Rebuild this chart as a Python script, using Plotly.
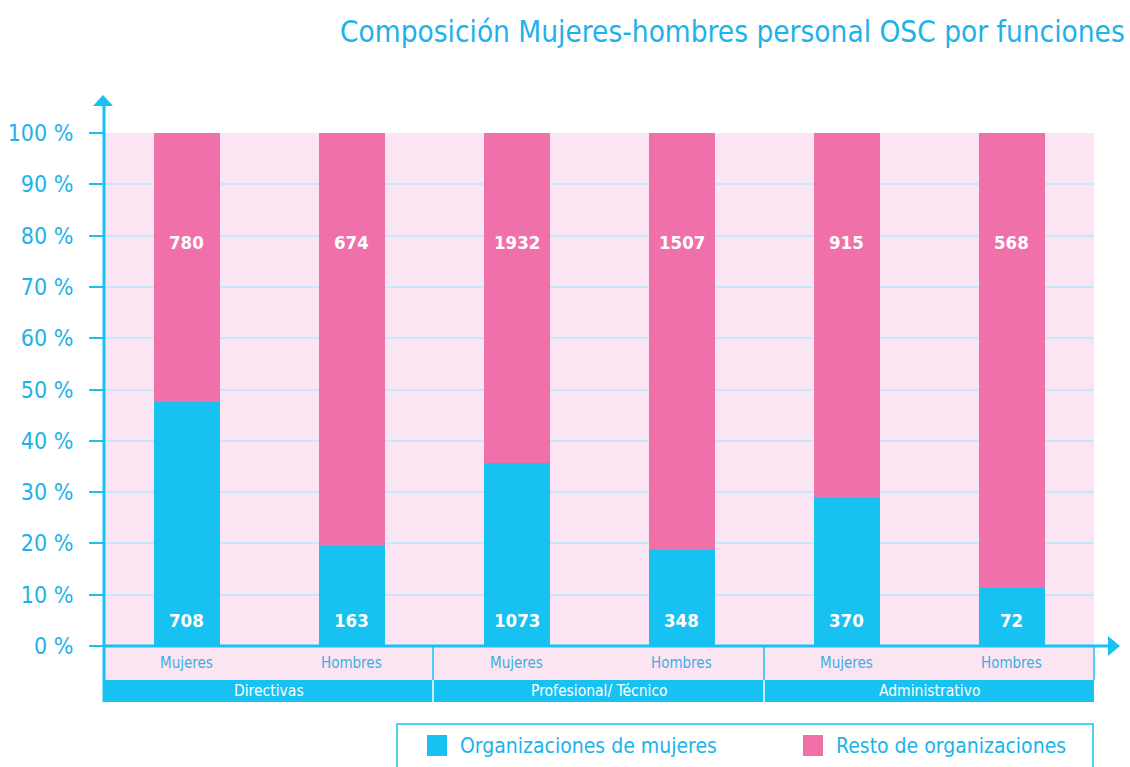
import plotly.graph_objects as go

# ---------------- data ----------------
groups = ["Directivas", "Profesional/ Técnico", "Administrativo"]
sexes = ["Mujeres", "Hombres", "Mujeres", "Hombres", "Mujeres", "Hombres"]
group_of_bar = [0, 0, 1, 1, 2, 2]
org_mujeres = [708, 163, 1073, 348, 370, 72]
resto_org = [780, 674, 1932, 1507, 915, 568]
totals = [1488, 837, 3005, 1855, 1285, 640]
y_ticks = [0, 10, 20, 30, 40, 50, 60, 70, 80, 90, 100]
series_names = ["Organizaciones de mujeres", "Resto de organizaciones"]
title_text = "Composición Mujeres-hombres personal OSC por funciones"

pct_m = [m / t * 100 for m, t in zip(org_mujeres, totals)]
pct_r = [r / t * 100 for r, t in zip(resto_org, totals)]
idx = list(range(len(sexes)))

# ---------------- style ----------------
CYAN = "#17C1F1"
CYAN_TXT = "#1DB2EA"
CAT_TXT = "#3AAEE5"
PINK = "#F071A9"
BG = "#FBE5F2"
GRID = "#C6E9F9"
FONT = "Liberation Sans Narrow, DejaVu Sans Condensed, Noto Sans, sans-serif"

W, H = 1130, 767
L, R, T, B = 104, 1094, 133, 646   # plot area in pixels


def px(x):
    return (x - L) / (R - L)


def py(y):
    return (B - y) / (B - T)


def path(points):
    s = "M " + " L ".join(f"{px(x):.5f},{py(y):.5f}" for x, y in points) + " Z"
    return s


fig = go.Figure()
fig.add_trace(go.Bar(x=idx, y=pct_m, width=0.4, marker=dict(color=CYAN, line=dict(width=0)),
                     name=series_names[0], customdata=org_mujeres,
                     hovertemplate="%{customdata}<extra></extra>"))
fig.add_trace(go.Bar(x=idx, y=pct_r, width=0.4, marker=dict(color=PINK, line=dict(width=0)),
                     name=series_names[1], customdata=resto_org,
                     hovertemplate="%{customdata}<extra></extra>"))

shapes = []
# category label row (pink) and group row (cyan)
shapes.append(dict(type="rect", xref="paper", yref="paper", x0=px(L), x1=px(R), y0=py(680), y1=py(647),
                   fillcolor=BG, line=dict(width=0), layer="below"))
shapes.append(dict(type="rect", xref="paper", yref="paper", x0=px(L), x1=px(R), y0=py(702), y1=py(680),
                   fillcolor=CYAN, line=dict(width=0), layer="below"))
# separators
for xs in [433, 764]:
    shapes.append(dict(type="line", xref="paper", yref="paper", x0=px(xs), x1=px(xs), y0=py(647), y1=py(680),
                       line=dict(color=CYAN, width=1.5)))
    shapes.append(dict(type="line", xref="paper", yref="paper", x0=px(xs), x1=px(xs), y0=py(680), y1=py(702),
                       line=dict(color="white", width=1.5)))
shapes.append(dict(type="line", xref="paper", yref="paper", x0=px(R), x1=px(R), y0=py(647), y1=py(680),
                   line=dict(color=CYAN, width=1.5)))
# y axis line + arrow
shapes.append(dict(type="line", xref="paper", yref="paper", x0=px(L), x1=px(L), y0=py(702), y1=py(104),
                   line=dict(color=CYAN, width=3)))
shapes.append(dict(type="path", xref="paper", yref="paper", path=path([(93, 106), (113, 106), (103, 95)]),
                   fillcolor=CYAN, line=dict(width=0)))
# x axis line + arrow
shapes.append(dict(type="line", xref="paper", yref="paper", x0=px(L), x1=px(1110), y0=py(646), y1=py(646),
                   line=dict(color=CYAN, width=3)))
shapes.append(dict(type="path", xref="paper", yref="paper", path=path([(1108, 636), (1120, 646), (1108, 656)]),
                   fillcolor=CYAN, line=dict(width=0)))
# legend box
shapes.append(dict(type="rect", xref="paper", yref="paper", x0=px(397), x1=px(1093), y0=py(800), y1=py(724),
                   fillcolor="white", line=dict(color=CYAN, width=1.5)))
legend_sq = [(427, CYAN), (803, PINK)]
for x0, col in legend_sq:
    shapes.append(dict(type="rect", xref="paper", yref="paper", x0=px(x0), x1=px(x0 + 20), y0=py(756), y1=py(735),
                       fillcolor=col, line=dict(width=0)))

ann = []
ann.append(dict(text=title_text, xref="paper", yref="paper", x=px(1127), y=py(32), xanchor="right",
                yanchor="middle", showarrow=False, font=dict(family=FONT, size=29.5, color=CYAN_TXT)))
for i in idx:
    ann.append(dict(text=f"<b>{totals[i]}</b>", x=i, y=103.9, xref="x", yref="y", showarrow=False,
                    yanchor="middle", font=dict(family=FONT, size=18, color=CYAN_TXT)))
    ann.append(dict(text=f"<b>{resto_org[i]}</b>", x=i, y=78.6, xref="x", yref="y", showarrow=False,
                    yanchor="middle", font=dict(family=FONT, size=18.5, color="white")))
    ann.append(dict(text=f"<b>{org_mujeres[i]}</b>", x=i, y=5.0, xref="x", yref="y", showarrow=False,
                    yanchor="middle", font=dict(family=FONT, size=18.5, color="white")))
    ann.append(dict(text=sexes[i], x=i, y=py(663), xref="x", yref="paper", showarrow=False,
                    xanchor="center", yanchor="middle", font=dict(family=FONT, size=15, color=CAT_TXT)))
for g, name in enumerate(groups):
    members = [i for i in idx if group_of_bar[i] == g]
    xc = sum(members) / len(members)
    ann.append(dict(text=name, x=xc, y=py(691), xref="x", yref="paper", showarrow=False,
                    xanchor="center", yanchor="middle", font=dict(family=FONT, size=15.5, color="white")))
for (x0, col), name in zip(legend_sq, series_names):
    ann.append(dict(text=name, x=px(x0 + 31), y=py(746), xref="paper", yref="paper", xanchor="left",
                    yanchor="middle", showarrow=False, font=dict(family=FONT, size=21, color=CYAN_TXT)))

fig.update_layout(
    width=W, height=H, barmode="stack", showlegend=False,
    margin=dict(l=L, r=W - R, t=T, b=H - B, pad=0, autoexpand=False),
    paper_bgcolor="white", plot_bgcolor=BG,
    shapes=shapes, annotations=ann,
    xaxis=dict(range=[-0.5, 5.5], showgrid=False, zeroline=False, showline=False, automargin=False,
               showticklabels=False, ticks="", fixedrange=True),
    yaxis=dict(range=[0, 100], tickvals=y_ticks, ticktext=[f"{v} %" for v in y_ticks], automargin=False,
               ticks="outside", ticklen=14, tickwidth=2, tickcolor=CYAN, ticklabelstandoff=11,
               showgrid=True, gridcolor=GRID, gridwidth=2, zeroline=False, showline=False,
               tickfont=dict(family=FONT, size=23, color=CYAN_TXT), fixedrange=True),
)

fig.write_html("out.html", config={"displayModeBar": False},
               post_script="document.body.style.margin='0px';")
